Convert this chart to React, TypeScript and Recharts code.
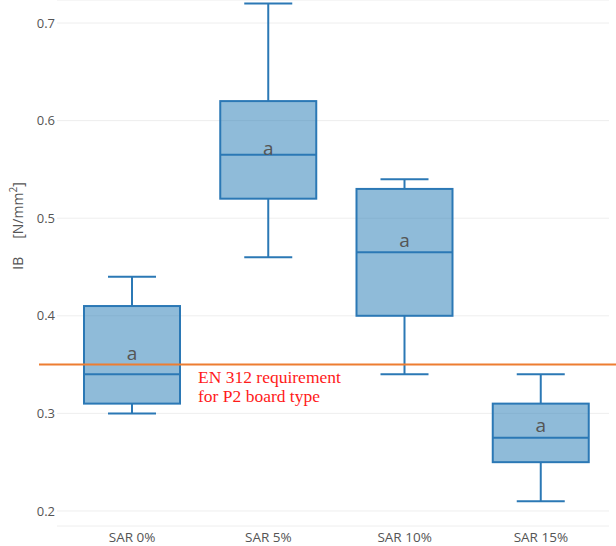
import {
  ComposedChart,
  Bar,
  Scatter,
  XAxis,
  YAxis,
  CartesianGrid,
  ReferenceLine,
} from 'recharts'

const groups = ['SAR 0%', 'SAR 5%', 'SAR 10%', 'SAR 15%']
const mins = [0.3, 0.46, 0.34, 0.21]
const q1s = [0.31, 0.52, 0.4, 0.25]
const medians = [0.34, 0.565, 0.465, 0.275]
const q3s = [0.41, 0.62, 0.53, 0.31]
const maxs = [0.44, 0.72, 0.54, 0.34]
const letterPos = [0.362, 0.572, 0.477, 0.288]
const letters = ['a', 'a', 'a', 'a']
const yTicks = [0.2, 0.3, 0.4, 0.5, 0.6, 0.7]
const requirement = 0.35
const requirementText = ['EN 312 requirement', 'for P2 board type']

const BLUE = '#2b78b5'
const FONT = 'Open Sans, sans-serif'

const data = groups.map((name, i) => ({
  name,
  min: mins[i],
  q1: q1s[i],
  median: medians[i],
  q3: q3s[i],
  max: maxs[i],
  letterY: letterPos[i],
  letter: letters[i],
}))

function BoxShape(props: any) {
  const { x, y, width, height } = props
  return (
    <rect x={x} y={y} width={width} height={height}
      fill="rgba(31,119,180,0.5)" stroke={BLUE} strokeWidth={2} />
  )
}

function UpperWhisker(props: any) {
  const { x, y, width, height } = props
  const cx = x + width / 2
  return (
    <g stroke={BLUE} strokeWidth={2}>
      <line x1={cx} x2={cx} y1={y} y2={y + height} />
      <line x1={x} x2={x + width} y1={y} y2={y} />
    </g>
  )
}

function LowerWhisker(props: any) {
  const { x, y, width, height } = props
  const cx = x + width / 2
  return (
    <g stroke={BLUE} strokeWidth={2}>
      <line x1={cx} x2={cx} y1={y} y2={y + height} />
      <line x1={x} x2={x + width} y1={y + height} y2={y + height} />
    </g>
  )
}

function MedianShape(props: any) {
  const { cx, cy } = props
  return <line x1={cx - 48} x2={cx + 48} y1={cy} y2={cy} stroke={BLUE} strokeWidth={2} />
}

function LetterShape(props: any) {
  const { cx, cy, payload } = props
  return (
    <text x={cx} y={cy} dy="0.35em" textAnchor="middle" fill="#555"
      fontSize={19} fontFamily={FONT}>
      {payload.letter}
    </text>
  )
}

function RequirementLine(props: any) {
  const { x1, y1, x2, y2 } = props
  const tx = x1 + 141
  return (
    <g>
      <line x1={x1 - 18} x2={x2 + 7} y1={y1} y2={y2} stroke="#ed7d31" strokeWidth={2} />
      <text x={tx} y={y1 + 18} fill="#ff1a1a" fontSize={17.5}
        fontFamily="Liberation Serif, serif">
        <tspan x={tx}>{requirementText[0]}</tspan>
        <tspan x={tx} dy={19}>{requirementText[1]}</tspan>
      </text>
    </g>
  )
}

function YLabel() {
  return (
    <text transform="translate(23,226) rotate(-90)" textAnchor="middle"
      fill="#555" fontSize={14} fontFamily={FONT}>
      IB<tspan dx={18}>[N/mm</tspan>
      <tspan dy={-6} fontSize={10}>2</tspan>
      <tspan dy={6}>]</tspan>
    </text>
  )
}

export default function App() {
  const pad = { left: 7, right: 0 }
  return (
    <div style={{ position: 'absolute', top: 0, left: 0 }}>
      <ComposedChart width={616} height={546} data={data}
        margin={{ top: 0, right: 7, bottom: 0, left: 0 }}>
        <CartesianGrid vertical={false} stroke="#eeeeee" />
        <XAxis dataKey="name" axisLine={false} tickLine={false} height={20} padding={pad}
          tickSize={6} tickMargin={0}
          tick={{ fill: '#555', fontSize: 13.5, fontFamily: FONT }} />
        <XAxis xAxisId="up" dataKey="name" hide padding={pad} />
        <XAxis xAxisId="lo" dataKey="name" hide padding={pad} />
        <YAxis width={57} domain={[0.1846, 0.7236]} allowDataOverflow ticks={yTicks}
          axisLine={false} tickLine={false} tickSize={0} tickMargin={2}
          tick={{ fill: '#555', fontSize: 13, fontFamily: FONT }}
          label={<YLabel />} />
        <Bar xAxisId="up" dataKey={(d: any) => [d.q3, d.max]} barSize={48}
          shape={<UpperWhisker />} isAnimationActive={false} />
        <Bar xAxisId="lo" dataKey={(d: any) => [d.min, d.q1]} barSize={48}
          shape={<LowerWhisker />} isAnimationActive={false} />
        <Bar dataKey={(d: any) => [d.q1, d.q3]} barSize={96}
          shape={<BoxShape />} isAnimationActive={false} />
        <Scatter dataKey="median" shape={<MedianShape />} isAnimationActive={false} />
        <Scatter dataKey="letterY" shape={<LetterShape />} isAnimationActive={false} />
        <ReferenceLine y={requirement} shape={<RequirementLine />} />
      </ComposedChart>
    </div>
  )
}
